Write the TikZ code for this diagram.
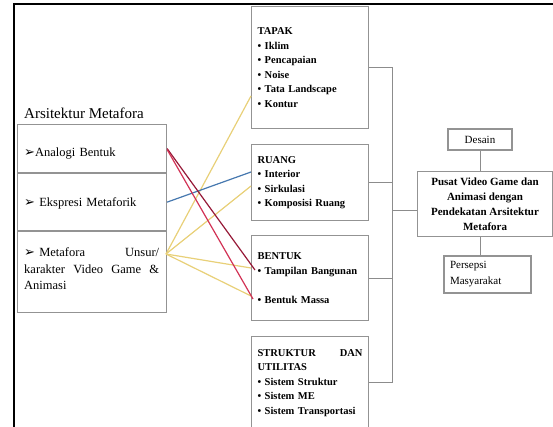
\documentclass[tikz,border=0pt]{standalone}
\usepackage{fontspec}
\setmainfont{Liberation Serif}
\newfontfamily\dingfont{DejaVu Sans}
\usepackage{xcolor}
\usetikzlibrary{positioning,calc}

\definecolor{linkred}{RGB}{150,25,55}
\definecolor{linkpink}{RGB}{210,50,85}
\definecolor{linkblue}{RGB}{70,120,175}
\definecolor{linkgold}{RGB}{232,208,120}
\newcommand{\pointer}{{\dingfont\fontsize{13}{14}\selectfont ➢}}

\begin{document}
\begin{tikzpicture}[
    x=1pt, y=-1pt,
    header/.style={anchor=west, inner sep=0pt, font=\fontsize{15}{18}\selectfont},
    leftrow/.style={rectangle, draw=gray!85, line width=1.1pt, minimum height=#1, minimum width=149pt, inner sep=0pt},
    rowtext/.style={anchor=west, inner sep=0pt, text width=135pt, align=left, font=\fontsize{12.5}{16.5}\selectfont},
    aspect/.style={rectangle, draw=gray!85, line width=1.1pt, minimum height=#1, text width=105pt, inner xsep=6pt, inner ysep=0pt, align=left, font=\bfseries\fontsize{10.5}{14.5}\selectfont},
    result/.style={rectangle, draw=gray!85, line width=1.1pt, align=center, inner sep=0pt, font=\bfseries\fontsize{11}{15}\selectfont},
    bracket/.style={draw=gray!90, line width=0.8pt},
    link/.style={line width=1.2pt}
]
    \useasboundingbox (0,0) rectangle (553,427);

    % --- Frame ---
    \draw[line width=2pt] (14,427) -- (14,4) -- (553,4);

    % --- Left Column ---
    \node[header] (title) at (24,113) {Arsitektur Metafora};
    \node[leftrow=48pt, anchor=north west] (analogi) at (17,124) {};
    \node[leftrow=57pt, below=0pt of analogi] (ekspresi) {};
    \node[leftrow=81pt, below=0pt of ekspresi] (metafora) {};
    \node[rowtext] (analogi-text) at ($(analogi.west)+(7,5)$) {\pointer Analogi Bentuk};
    \node[rowtext] (ekspresi-text) at ($(ekspresi.west)+(7,1.5)$) {\pointer\ Ekspresi Metaforik};
    \node[rowtext] (metafora-text) at ($(metafora.west)+(7,-3.5)$) {\pointer\ Metafora\hfill Unsur/\\karakter\hfill Video\hfill Game\hfill \&\\Animasi};

    % --- Middle Column ---
    \node[aspect=122pt, anchor=north west] (tapak) at (251,6) {TAPAK\\\textbullet\ Iklim\\\textbullet\ Pencapaian\\\textbullet\ Noise\\\textbullet\ Tata Landscape\\\textbullet\ Kontur};
    \node[aspect=76pt, below=15pt of tapak] (ruang) {RUANG\\\textbullet\ Interior\\\textbullet\ Sirkulasi\\\textbullet\ Komposisi Ruang};
    \node[aspect=85pt, below=14pt of ruang] (bentuk) {BENTUK\\\textbullet\ Tampilan Bangunan\\[14.5pt]\textbullet\ Bentuk Massa};
    \node[aspect=92pt, below=15pt of bentuk] (struktur) {STRUKTUR\hfill DAN\\UTILITAS\\\textbullet\ Sistem Struktur\\\textbullet\ Sistem ME\\\textbullet\ Sistem Transportasi};

    % --- Right Column ---
    \node[result, minimum width=135pt, minimum height=65pt, anchor=north west] (pusat) at (417,171) {Pusat Video Game dan\\Animasi dengan\\Pendekatan Arsitektur\\Metafora};
    \node[result, minimum width=64pt, minimum height=21pt, line width=1.5pt, font=\fontsize{11}{13}\selectfont] (desain) at (480,139.5) {Desain};
    \node[result, minimum width=87pt, minimum height=37pt, align=left, text width=75pt, inner xsep=6pt, font=\fontsize{11}{16}\selectfont] (persepsi) at (487.5,274.5) {Persepsi\\Masyarakat};

    % --- Bracket ---
    \coordinate (join) at (392,210);
    \draw[bracket] (tapak.east) -- (tapak.east -| join) -- (struktur.east -| join) -- (struktur.east);
    \draw[bracket] (ruang.east) -- (ruang.east -| join);
    \draw[bracket] (bentuk.east) -- (bentuk.east -| join);
    \draw[bracket] (join) -- (join -| pusat.west);
    \draw[bracket] (desain.south) -- (desain.south |- pusat.north);
    \draw[bracket] (persepsi.north -| desain.south) -- (pusat.south -| desain.south);

    % --- Links ---
    \coordinate (metafora-out) at (166,254);
    \coordinate (kontur) at (251,96);
    \coordinate (sirkulasi) at (251,186);
    \coordinate (interior) at (251,172);
    \coordinate (tampilan) at (251,268);
    \coordinate (massa) at (251,296);
    \coordinate (tampilan-dot) at (255,270);
    \coordinate (massa-dot) at (253,299);

    \draw[link, linkgold] (metafora-out) -- (kontur);
    \draw[link, linkgold] (metafora-out) -- (sirkulasi);
    \draw[link, linkgold] (metafora-out) -- (tampilan);
    \draw[link, linkgold] (metafora-out) -- (massa);
    \draw[link, linkblue] (ekspresi.east) -- (interior);
    \draw[link, linkred] (analogi.east) -- (tampilan-dot);
    \draw[link, linkpink] ($(analogi.east)+(0,1)$) -- (massa-dot);

\end{tikzpicture}
\end{document}
